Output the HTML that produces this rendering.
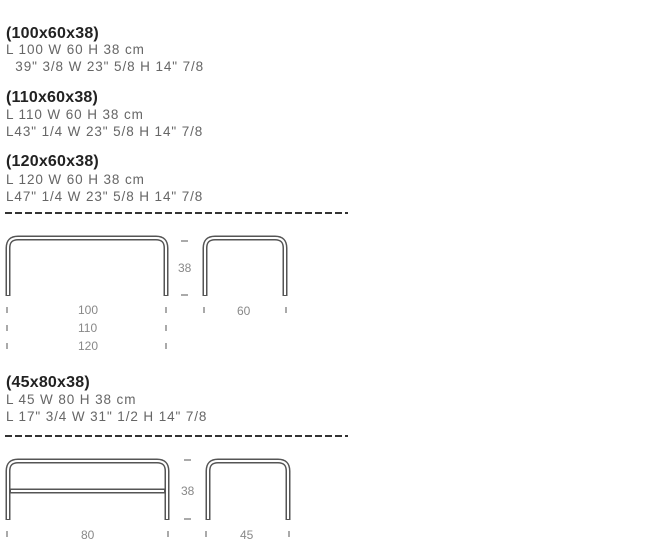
<!DOCTYPE html>
<html><head><style>
html,body{margin:0;padding:0;background:#fff;}
body{width:654px;height:548px;overflow:hidden;position:relative;font-family:"Liberation Sans",sans-serif;}
.t{position:absolute;left:6px;font-size:16px;font-weight:bold;color:#222;letter-spacing:0.2px}
.l{position:absolute;left:6px;font-size:13.5px;color:#666;letter-spacing:0.9px;white-space:pre}
</style></head><body>
<div class="t" style="top:25px">(100x60x38)</div>
<div class="l" style="top:42px">L 100 W 60 H 38 cm</div>
<div class="l" style="top:59px">  39" 3/8 W 23" 5/8 H 14" 7/8</div>
<div class="t" style="top:89px">(110x60x38)</div>
<div class="l" style="top:107px">L 110 W 60 H 38 cm</div>
<div class="l" style="top:124px">L43" 1/4 W 23" 5/8 H 14" 7/8</div>
<div class="t" style="top:153px">(120x60x38)</div>
<div class="l" style="top:172px">L 120 W 60 H 38 cm</div>
<div class="l" style="top:189px">L47" 1/4 W 23" 5/8 H 14" 7/8</div>
<div class="t" style="top:374px">(45x80x38)</div>
<div class="l" style="top:392px">L 45 W 80 H 38 cm</div>
<div class="l" style="top:409px">L 17" 3/4 W 31" 1/2 H 14" 7/8</div>
<svg width="654" height="548" style="position:absolute;left:0;top:0" font-family="Liberation Sans" font-size="12" fill="#888">
<g stroke="#333" stroke-width="2" stroke-dasharray="7,3"><line x1="5" y1="213" x2="348" y2="213"/><line x1="5" y1="436" x2="348" y2="436"/></g>
<g fill="none" stroke-linejoin="round">
<g stroke="#555" stroke-width="5">
<path d="M8 296 V248 Q8 238 18 238 H156 Q166 238 166 248 V296"/>
<path d="M205 296 V248 Q205 238 215 238 H275 Q285 238 285 248 V296"/>
<path d="M8 520 V471 Q8 461 18 461 H157 Q167 461 167 471 V520"/>
<path d="M208 520 V471 Q208 461 218 461 H278 Q288 461 288 471 V520"/>
<line x1="9" y1="491" x2="166" y2="491"/>
</g>
<g stroke="#fff" stroke-width="2">
<path d="M8 295 V248 Q8 238 18 238 H156 Q166 238 166 248 V295"/>
<path d="M205 295 V248 Q205 238 215 238 H275 Q285 238 285 248 V295"/>
<path d="M8 519 V471 Q8 461 18 461 H157 Q167 461 167 471 V519"/>
<path d="M208 519 V471 Q208 461 218 461 H278 Q288 461 288 471 V519"/>
<line x1="11" y1="491" x2="164" y2="491"/>
</g>
</g>
<g stroke="#555" stroke-width="1">
<line x1="181" y1="241" x2="188" y2="241"/><line x1="181" y1="295" x2="188" y2="295"/>
<line x1="184" y1="460" x2="191" y2="460"/><line x1="184" y1="519" x2="191" y2="519"/>
<line x1="7" y1="307" x2="7" y2="313"/><line x1="166" y1="307" x2="166" y2="313"/>
<line x1="7" y1="325" x2="7" y2="331"/><line x1="166" y1="325" x2="166" y2="331"/>
<line x1="7" y1="343" x2="7" y2="349"/><line x1="166" y1="343" x2="166" y2="349"/>
<line x1="204" y1="307" x2="204" y2="313"/><line x1="286" y1="307" x2="286" y2="313"/>
<line x1="7" y1="531" x2="7" y2="537"/><line x1="168" y1="531" x2="168" y2="537"/>
<line x1="206" y1="531" x2="206" y2="537"/><line x1="289" y1="531" x2="289" y2="537"/>
</g>
<text x="178" y="272">38</text>
<text x="181" y="495">38</text>
<text x="78" y="314">100</text>
<text x="78" y="332">110</text>
<text x="78" y="350">120</text>
<text x="237" y="315">60</text>
<text x="81" y="539">80</text>
<text x="240" y="539">45</text>
</svg>
</body></html>
